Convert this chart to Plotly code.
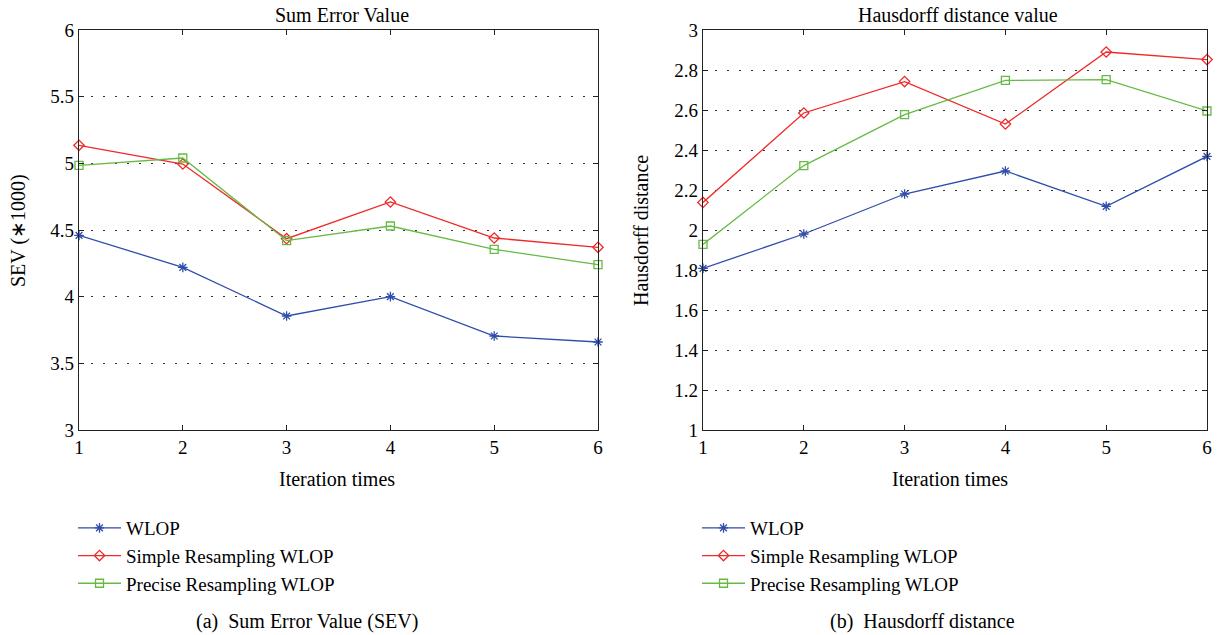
import plotly.graph_objects as go

iterations = [1, 2, 3, 4, 5, 6]
series_names = ["WLOP", "Simple Resampling WLOP", "Precise Resampling WLOP"]

sev_wlop = [4.46, 4.22, 3.855, 4.0, 3.705, 3.66]
sev_simple = [5.135, 4.995, 4.435, 4.71, 4.44, 4.37]
sev_precise = [4.985, 5.04, 4.42, 4.53, 4.355, 4.24]

hd_wlop = [1.808, 1.98, 2.18, 2.295, 2.118, 2.368]
hd_simple = [2.138, 2.585, 2.742, 2.53, 2.89, 2.852]
hd_precise = [1.928, 2.322, 2.577, 2.748, 2.752, 2.595]

sev_ticks = [3, 3.5, 4, 4.5, 5, 5.5, 6]
hd_ticks = [1, 1.2, 1.4, 1.6, 1.8, 2, 2.2, 2.4, 2.6, 2.8, 3]

colors = ["#2F4DAA", "#F02828", "#66BB44"]
symbols = ["asterisk-open", "diamond-open", "square-open"]
msizes = [8, 8, 8]

W, H = 1218, 635
FONT = "Liberation Serif"
TXT = 20
LEG = 19
TICK = 19

def px(x):
    return x / W

def py(y):
    return (H - y) / H

fig = go.Figure()

sev_series = [sev_wlop, sev_simple, sev_precise]
hd_series = [hd_wlop, hd_simple, hd_precise]

for i, name in enumerate(series_names):
    fig.add_trace(go.Scatter(
        x=iterations, y=sev_series[i], name=name, mode="lines+markers",
        line=dict(color=colors[i], width=1.3),
        marker=dict(symbol=symbols[i], size=msizes[i], color=colors[i],
                    line=dict(color=colors[i], width=1.3)),
        xaxis="x", yaxis="y", legend="legend", cliponaxis=False,
    ))
for i, name in enumerate(series_names):
    fig.add_trace(go.Scatter(
        x=iterations, y=hd_series[i], name=name, mode="lines+markers",
        line=dict(color=colors[i], width=1.3),
        marker=dict(symbol=symbols[i], size=msizes[i], color=colors[i],
                    line=dict(color=colors[i], width=1.3)),
        xaxis="x2", yaxis="y2", legend="legend2", cliponaxis=False,
    ))

axis_common = dict(
    showline=True, linecolor="#222222", linewidth=1.3, mirror="ticks",
    ticks="inside", ticklen=5, tickcolor="#222222", tickwidth=1.2,
    tickfont=dict(family=FONT, size=TICK, color="black"),
    zeroline=False, automargin=False,
)
grid = dict(showgrid=True, gridcolor="#333333", gridwidth=1.3, griddash="2px,10px")

ydom = [py(430), py(30)]

fig.update_layout(
    template="none",
    width=W, height=H, autosize=False,
    margin=dict(l=0, r=0, t=0, b=0, pad=0, autoexpand=False),
    paper_bgcolor="white", plot_bgcolor="white",
    font=dict(family=FONT, color="black"),
    xaxis=dict(domain=[px(79), px(598)], range=[1, 6], tickvals=iterations,
               showgrid=False, anchor="y", **axis_common),
    yaxis=dict(domain=ydom, range=[3, 6], tickvals=sev_ticks,
               anchor="x", **grid, **axis_common),
    xaxis2=dict(domain=[px(703), px(1207)], range=[1, 6], tickvals=iterations,
                showgrid=False, anchor="y2", **axis_common),
    yaxis2=dict(domain=ydom, range=[1, 3], tickvals=hd_ticks,
                anchor="x2", **grid, **axis_common),
    legend=dict(x=px(73), y=py(509), xanchor="left", yanchor="top",
                font=dict(family=FONT, size=LEG, color="black"),
                bgcolor="rgba(0,0,0,0)", borderwidth=0, itemwidth=43, tracegroupgap=0),
    legend2=dict(x=px(697), y=py(509), xanchor="left", yanchor="top",
                 font=dict(family=FONT, size=LEG, color="black"),
                 bgcolor="rgba(0,0,0,0)", borderwidth=0, itemwidth=43, tracegroupgap=0),
    showlegend=True,
)

ann = []
def text(x, y, s, size=TXT, angle=0):
    ann.append(dict(x=px(x), y=py(y), xref="paper", yref="paper", text=s,
                    showarrow=False, textangle=angle,
                    font=dict(family=FONT, size=size, color="black"),
                    xanchor="center", yanchor="middle"))

text(342, 15, "Sum Error Value")
text(958, 15, "Hausdorff distance value")
text(337, 479, "Iteration times")
text(950, 479, "Iteration times")
text(19, 231, "SEV (∗1000)", angle=-90)
text(641, 231, "Hausdorff distance", angle=-90)
text(307, 621, "(a)  Sum Error Value (SEV)")
text(922, 621, "(b)  Hausdorff distance")
fig.update_layout(annotations=ann)

fig.write_html("out.html", config={"displayModeBar": False},
               post_script="document.body.style.margin='0px';document.body.style.overflow='hidden';")
